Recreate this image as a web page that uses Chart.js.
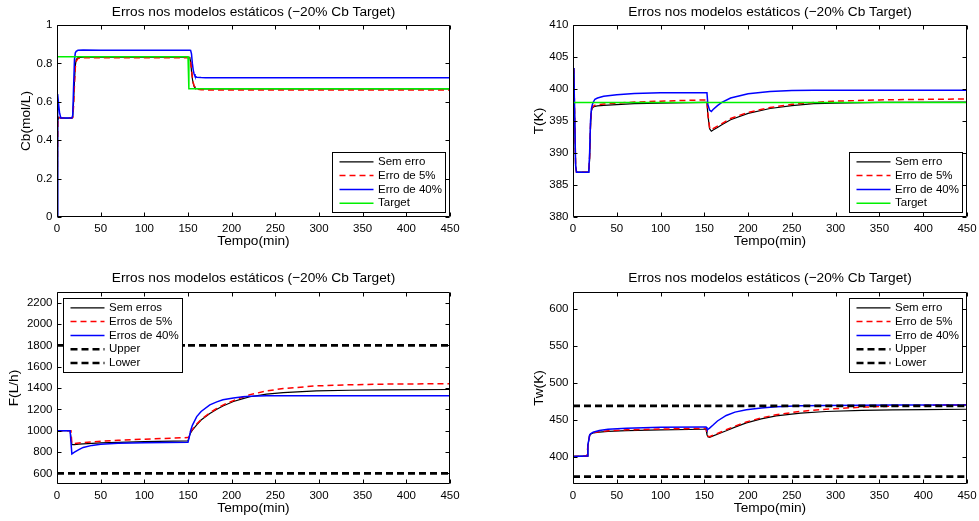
<!DOCTYPE html>
<html>
<head>
<meta charset="utf-8">
<title>Erros nos modelos estáticos</title>
<script src="https://cdn.jsdelivr.net/npm/chart.js@4.4.0/dist/chart.umd.min.js"></script>
<style>
  html, body { margin: 0; padding: 0; background: #ffffff; overflow: hidden; }
  #wrap { position: relative; width: 979px; height: 521px; }
  canvas { position: absolute; }
</style>
</head>
<body>
<div id="wrap">
  <canvas id="chartCb" width="490" height="260" style="left:0px; top:0px;"></canvas>
  <canvas id="chartT" width="489" height="260" style="left:490px; top:0px;"></canvas>
  <canvas id="chartF" width="490" height="261" style="left:0px; top:260px;"></canvas>
  <canvas id="chartTw" width="489" height="261" style="left:490px; top:260px;"></canvas>
</div>
<script>
var titleText = 'Erros nos modelos est\u00e1ticos (\u221220% Cb Target)';
var xTicks = [0, 50, 100, 150, 200, 250, 300, 350, 400, 450];

// Cb (mol/L)
var tCb = [0, 0.5, 1, 2, 3, 4.5, 10, 17, 18, 19, 20, 21, 22, 24, 30, 50, 100, 150, 151, 152, 153, 154, 155, 156, 157, 158, 160, 165, 170, 200, 300, 450];
var cbSemErro = [0, 0.35, 0.50, 0.52, 0.517, 0.515, 0.515, 0.515, 0.52, 0.60, 0.71, 0.79, 0.82, 0.830, 0.833, 0.833, 0.833, 0.832, 0.832, 0.832, 0.81, 0.76, 0.72, 0.695, 0.68, 0.672, 0.668, 0.667, 0.667, 0.667, 0.667, 0.667];
var cbErro5 = [0, 0.33, 0.49, 0.52, 0.517, 0.515, 0.515, 0.515, 0.518, 0.58, 0.69, 0.78, 0.81, 0.826, 0.830, 0.830, 0.830, 0.830, 0.830, 0.830, 0.815, 0.77, 0.73, 0.70, 0.685, 0.675, 0.666, 0.663, 0.662, 0.662, 0.662, 0.662];
var cbErro40 = [0, 0.45, 0.64, 0.58, 0.54, 0.515, 0.515, 0.515, 0.53, 0.68, 0.82, 0.855, 0.863, 0.868, 0.870, 0.869, 0.869, 0.869, 0.869, 0.869, 0.868, 0.85, 0.80, 0.765, 0.745, 0.733, 0.728, 0.726, 0.725, 0.725, 0.725, 0.725];
var tCbTarget = [0, 150, 151, 450];
var cbTarget = [0.835, 0.835, 0.668, 0.668];
var cbTicks = [0, 0.2, 0.4, 0.6, 0.8, 1];

// T (K)
var tT = [0, 1, 2, 3, 4, 10, 17, 18, 19, 20, 21, 22, 23, 25, 28, 35, 50, 70, 100, 150, 153, 154, 156, 158, 160, 165, 170, 180, 200, 225, 250, 275, 300, 350, 450];
var tSemErro = [403.3, 403, 395, 388, 387, 387, 387, 387, 389, 394, 396.5, 397.0, 397.15, 397.3, 397.35, 397.45, 397.55, 397.7, 397.8, 397.9, 397.9, 396.0, 393.8, 393.4, 393.6, 394.0, 394.4, 395.2, 396.2, 396.95, 397.4, 397.7, 397.8, 397.9, 397.95];
var tErro5 = [403.3, 403, 395, 388, 387, 387, 387, 387, 389.5, 394.5, 396.7, 397.1, 397.3, 397.45, 397.55, 397.65, 397.8, 397.95, 398.1, 398.3, 398.3, 396.2, 394.0, 393.6, 393.8, 394.2, 394.6, 395.4, 396.35, 397.1, 397.6, 397.9, 398.1, 398.3, 398.45];
var tErro40 = [403.3, 403, 395, 388, 387, 387, 387, 387, 390, 395, 396.9, 397.5, 397.9, 398.4, 398.6, 398.85, 399.1, 399.3, 399.4, 399.4, 399.4, 397.6, 396.7, 396.5, 396.8, 397.4, 397.9, 398.6, 399.25, 399.6, 399.75, 399.8, 399.8, 399.8, 399.8];
var tTTarget = [0, 450];
var tTarget = [397.9, 397.9];
var tTicks = [380, 385, 390, 395, 400, 405, 410];

// F (L/h)
var tF = [0, 15, 16, 17, 18, 20, 25, 30, 40, 50, 70, 100, 150, 151, 152, 153, 155, 160, 165, 175, 183, 190, 202, 213, 221, 240, 259, 297, 335, 373, 450];
var fSemErros = [1000, 1000, 1000, 870, 869, 870, 873, 876, 880, 885, 891, 898, 905, 905, 960, 980, 1005, 1055, 1100, 1160, 1200, 1232, 1273, 1300, 1318, 1342, 1357, 1373, 1379, 1383, 1386];
var fErros5 = [1000, 1000, 1000, 878, 877, 880, 884, 888, 894, 900, 910, 920, 935, 935, 975, 992, 1012, 1062, 1105, 1168, 1208, 1240, 1282, 1315, 1338, 1372, 1395, 1420, 1430, 1436, 1441];
var fErros40 = [1000, 1000, 1000, 782, 788, 798, 822, 843, 862, 872, 881, 887, 891, 891, 960, 1000, 1050, 1132, 1180, 1242, 1270, 1289, 1306, 1317, 1322, 1327, 1328, 1328, 1328, 1328, 1328];
// the limit lines were plotted in two pieces, split at t = 150
var tBound = [0, 150, 150, 150, 450];
var fUpper = [1800, 1800, null, 1800, 1800];
var fLower = [600, 600, null, 600, 600];
var fTicks = [600, 800, 1000, 1200, 1400, 1600, 1800, 2000, 2200];

// Tw (K)
var tTw = [0, 15, 16, 17, 19, 20, 23, 30, 40, 61, 100, 150, 152, 153, 154, 156, 160, 165, 175, 185, 198, 215, 232, 260, 289, 330, 365, 400, 450];
var twSemErro = [400.5, 401, 401, 415, 429, 430.5, 432.3, 433.5, 434.5, 435.4, 436.5, 437.3, 437.3, 430, 427, 426.3, 428.3, 430.6, 435.2, 440.2, 446, 451.3, 455.3, 459.2, 461.3, 462.8, 463.6, 464, 464.4];
var twErro5 = [400.5, 401, 401, 415, 429, 430.7, 432.6, 434, 435.3, 436.5, 437.6, 438.5, 438.5, 431, 428, 427.2, 429.2, 431.6, 436.6, 441.5, 447.2, 452.6, 457, 461.5, 464.5, 467.2, 468.6, 469.6, 470.4];
var twErro40 = [400.5, 401, 401, 416, 429.5, 431.2, 433.3, 435.5, 437.3, 438.7, 440, 440.5, 440.5, 437.5, 437.2, 438.8, 443, 448.5, 456, 460.5, 463.8, 466.2, 467.8, 469, 469.6, 469.9, 470, 470, 470];
var twUpper = [469, 469, null, 469, 469];
var twLower = [373.15, 373.15, null, 373.15, 373.15];
var twTicks = [400, 450, 500, 550, 600];

var fontFamily = '"Liberation Sans", Arial, Helvetica, sans-serif';
Chart.defaults.font.family = fontFamily;
Chart.defaults.color = '#000000';

function points(times, values) {
    return times.map(function(t, i) { return { x: t, y: values[i] }; });
}

function styleFor(kind) {
    if (kind === 'black') return { borderColor: '#000000', borderWidth: 1.2, borderDash: [] };
    if (kind === 'red') return { borderColor: '#ff0000', borderWidth: 1.5, borderDash: [6, 4] };
    if (kind === 'blue') return { borderColor: '#0000ff', borderWidth: 1.5, borderDash: [] };
    if (kind === 'green') return { borderColor: '#00f000', borderWidth: 1.5, borderDash: [] };
    return { borderColor: '#000000', borderWidth: 2.6, borderDash: [7, 4] };
}

function dataset(label, times, values, kind, index, total) {
    var s = styleFor(kind);
    return {
        label: label,
        data: points(times, values),
        borderColor: s.borderColor,
        borderWidth: s.borderWidth,
        borderDash: s.borderDash,
        pointRadius: 0,
        fill: false,
        tension: 0,
        spanGaps: false,
        order: total - index
    };
}

// box around the plot with inward ticks on all four sides, and the title centred on the plot
var matlabAxes = {
    id: 'matlabAxes',
    afterDatasetsDraw: function(chart, args, opts) {
        var ctx = chart.ctx, a = chart.chartArea;
        var xs = chart.scales.x, ys = chart.scales.y;
        var L = Math.round(a.left) + 0.5, R = Math.round(a.right) - 0.5;
        var T = Math.round(a.top) + 0.5, B = Math.round(a.bottom) - 0.5;
        var len = 4;
        ctx.save();
        ctx.strokeStyle = '#000000';
        ctx.lineWidth = 1;
        ctx.setLineDash([]);
        ctx.beginPath();
        xs.ticks.forEach(function(t) {
            var px = Math.round(xs.getPixelForValue(t.value)) + 0.5;
            ctx.moveTo(px, B); ctx.lineTo(px, B - len);
            ctx.moveTo(px, T); ctx.lineTo(px, T + len);
        });
        ys.ticks.forEach(function(t) {
            var py = Math.round(ys.getPixelForValue(t.value)) + 0.5;
            ctx.moveTo(L, py); ctx.lineTo(L + len, py);
            ctx.moveTo(R, py); ctx.lineTo(R - len, py);
        });
        ctx.rect(L, T, R - L, B - T);
        ctx.stroke();
        if (opts && opts.title) {
            ctx.fillStyle = '#000000';
            ctx.font = '13.7px ' + fontFamily;
            ctx.textAlign = 'center';
            ctx.textBaseline = 'middle';
            ctx.fillText(opts.title, (a.left + a.right) / 2, a.top - opts.titleGap);
        }
        ctx.restore();
    }
};

// legend drawn inside the plot, like the original
var matlabLegend = {
    id: 'matlabLegend',
    afterDraw: function(chart, args, opts) {
        if (!opts || !opts.where) return;
        var ctx = chart.ctx, a = chart.chartArea;
        var sets = chart.data.datasets;
        var rowH = 13.8;
        ctx.save();
        ctx.font = '11.5px ' + fontFamily;
        var textW = 0;
        sets.forEach(function(d) { textW = Math.max(textW, ctx.measureText(d.label).width); });
        var w = Math.round(45.5 + textW + 4);
        var h = Math.round(sets.length * rowH + 4.8);
        var x0 = opts.where.indexOf('left') >= 0 ? a.left + opts.inset : a.right - opts.inset - w;
        var y0 = opts.where.indexOf('top') >= 0 ? a.top + opts.inset : a.bottom - opts.inset - h;
        x0 = Math.round(x0) + 0.5;
        y0 = Math.round(y0) + 0.5;
        ctx.fillStyle = '#ffffff';
        ctx.fillRect(x0, y0, w, h);
        ctx.strokeStyle = '#000000';
        ctx.lineWidth = 1;
        ctx.setLineDash([]);
        ctx.strokeRect(x0, y0, w, h);
        sets.forEach(function(d, i) {
            var cy = y0 + 2.4 + rowH * (i + 0.5);
            ctx.beginPath();
            ctx.strokeStyle = d.borderColor;
            ctx.lineWidth = d.borderWidth;
            ctx.setLineDash(d.borderDash || []);
            ctx.moveTo(x0 + 7, cy);
            ctx.lineTo(x0 + 41, cy);
            ctx.stroke();
            ctx.fillStyle = '#000000';
            ctx.textBaseline = 'middle';
            ctx.textAlign = 'left';
            ctx.fillText(d.label, x0 + 45.5, cy);
        });
        ctx.restore();
    }
};

Chart.register(matlabAxes, matlabLegend);

function noOverflow(s) {
    s.paddingLeft = 0;
    s.paddingRight = 0;
    s.paddingTop = 0;
    s.paddingBottom = 0;
}

function makeChart(id, c) {
    var yTickList = c.yTicks;
    new Chart(document.getElementById(id), {
        type: 'line',
        data: { datasets: c.datasets },
        options: {
            responsive: false,
            animation: false,
            layout: { padding: { left: 0, top: c.padTop, right: c.padRight, bottom: 0 } },
            plugins: {
                legend: { display: false },
                tooltip: { enabled: false },
                title: { display: false },
                matlabAxes: { title: titleText, titleGap: c.titleGap },
                matlabLegend: c.legend
            },
            scales: {
                x: {
                    type: 'linear',
                    min: 0,
                    max: 450,
                    grid: { display: false, drawTicks: false },
                    border: { display: false },
                    afterBuildTicks: function(s) { s.ticks = xTicks.map(function(v) { return { value: v }; }); },
                    afterFit: function(s) { s.height = c.xHeight; noOverflow(s); },
                    ticks: {
                        font: { size: 11.5 },
                        color: '#000000',
                        padding: 4.5,
                        maxRotation: 0,
                        autoSkip: false,
                        callback: function(v) { return String(v); }
                    },
                    title: {
                        display: true,
                        text: 'Tempo(min)',
                        color: '#000000',
                        font: { size: 13.7, lineHeight: 1.2 },
                        padding: { top: 0, bottom: c.xTitleBottom }
                    }
                },
                y: {
                    type: 'linear',
                    min: c.yMin,
                    max: c.yMax,
                    grid: { display: false, drawTicks: false },
                    border: { display: false },
                    afterBuildTicks: function(s) { s.ticks = yTickList.map(function(v) { return { value: v }; }); },
                    afterFit: function(s) { s.width = c.yWidth; noOverflow(s); },
                    ticks: {
                        font: { size: 11.5 },
                        color: '#000000',
                        padding: 4.5,
                        autoSkip: false,
                        callback: function(v) { return String(Math.round(v * 100) / 100); }
                    },
                    title: {
                        display: true,
                        text: c.yTitle,
                        color: '#000000',
                        font: { size: 13.7, lineHeight: 1.2 },
                        padding: { top: c.yTitleLeft, bottom: 0 }
                    }
                }
            }
        }
    });
}

makeChart('chartCb', {
    datasets: [
        dataset('Sem erro', tCb, cbSemErro, 'black', 0, 4),
        dataset('Erro de 5%', tCb, cbErro5, 'red', 1, 4),
        dataset('Erro de 40%', tCb, cbErro40, 'blue', 2, 4),
        dataset('Target', tCbTarget, cbTarget, 'green', 3, 4)
    ],
    yMin: 0, yMax: 1, yTicks: cbTicks, yTitle: 'Cb(mol/L)',
    padTop: 25, padRight: 40, yWidth: 57, xHeight: 43, titleGap: 13,
    xTitleBottom: 10.8, yTitleLeft: 17.8,
    legend: { where: 'bottom-right', inset: 5.5 }
});

makeChart('chartT', {
    datasets: [
        dataset('Sem erro', tT, tSemErro, 'black', 0, 4),
        dataset('Erro de 5%', tT, tErro5, 'red', 1, 4),
        dataset('Erro de 40%', tT, tErro40, 'blue', 2, 4),
        dataset('Target', tTTarget, tTarget, 'green', 3, 4)
    ],
    yMin: 380, yMax: 410, yTicks: tTicks, yTitle: 'T(K)',
    padTop: 25, padRight: 12, yWidth: 83, xHeight: 43, titleGap: 13,
    xTitleBottom: 10.8, yTitleLeft: 40.6,
    legend: { where: 'bottom-right', inset: 5.5 }
});

makeChart('chartF', {
    datasets: [
        dataset('Sem erros', tF, fSemErros, 'black', 0, 5),
        dataset('Erros de 5%', tF, fErros5, 'red', 1, 5),
        dataset('Erros de 40%', tF, fErros40, 'blue', 2, 5),
        dataset('Upper', tBound, fUpper, 'bound', 3, 5),
        dataset('Lower', tBound, fLower, 'bound', 4, 5)
    ],
    yMin: 500, yMax: 2300, yTicks: fTicks, yTitle: 'F(L/h)',
    padTop: 32, padRight: 40, yWidth: 57, xHeight: 37, titleGap: 14,
    xTitleBottom: 4.1, yTitleLeft: 6.3,
    legend: { where: 'top-left', inset: 5.5 }
});

makeChart('chartTw', {
    datasets: [
        dataset('Sem erro', tTw, twSemErro, 'black', 0, 5),
        dataset('Erro de 5%', tTw, twErro5, 'red', 1, 5),
        dataset('Erro de 40%', tTw, twErro40, 'blue', 2, 5),
        dataset('Upper', tBound, twUpper, 'bound', 3, 5),
        dataset('Lower', tBound, twLower, 'bound', 4, 5)
    ],
    yMin: 363.15, yMax: 623.15, yTicks: twTicks, yTitle: 'Tw(K)',
    padTop: 32, padRight: 12, yWidth: 83, xHeight: 37, titleGap: 14,
    xTitleBottom: 4.1, yTitleLeft: 40.6,
    legend: { where: 'top-right', inset: 5.5 }
});
</script>
</body>
</html>
